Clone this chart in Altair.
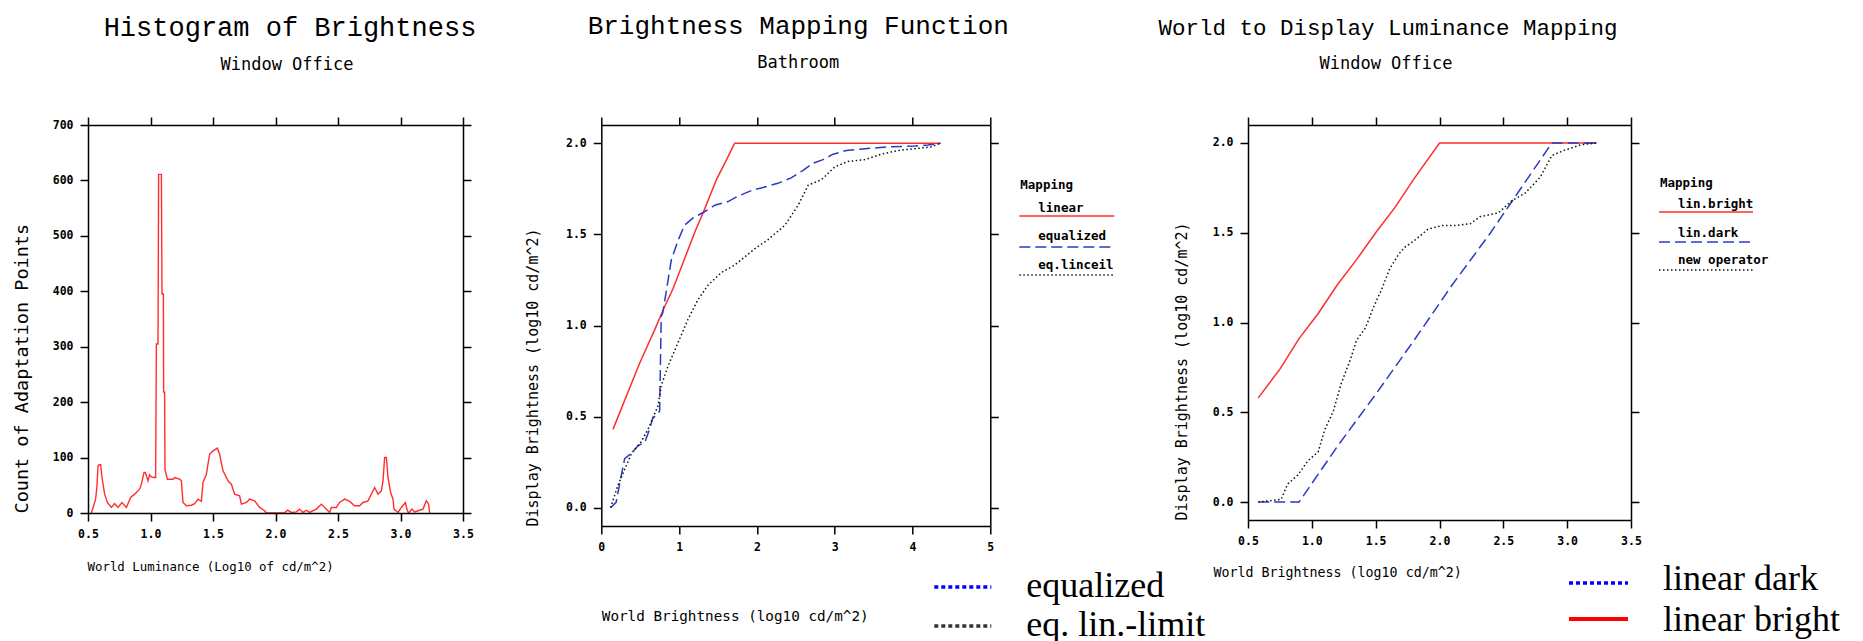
import altair as alt
import pandas as pd

# ---------------- Histogram of Brightness (Window Office) ----------------
hist_lum = [0.527, 0.561, 0.572, 0.580, 0.591, 0.601, 0.612, 0.633, 0.655, 0.687,
            0.713, 0.740, 0.772, 0.807, 0.841, 0.873, 0.913, 0.927, 0.948, 0.959,
            0.980, 0.993, 1.007, 1.028, 1.041, 1.047, 1.060, 1.065, 1.087, 1.092,
            1.103, 1.105, 1.113, 1.116, 1.135, 1.180, 1.193, 1.233, 1.247, 1.260,
            1.287, 1.327, 1.353, 1.380, 1.407, 1.420, 1.447, 1.473, 1.500, 1.535,
            1.553, 1.580, 1.620, 1.647, 1.673, 1.713, 1.727, 1.767, 1.793, 1.833,
            1.873, 1.913, 1.927, 2.073, 2.095, 2.127, 2.167, 2.193, 2.220, 2.247,
            2.273, 2.327, 2.367, 2.433, 2.447, 2.487, 2.513, 2.553, 2.593, 2.633,
            2.673, 2.700, 2.740, 2.793, 2.820, 2.847, 2.860, 2.873, 2.887, 2.900,
            2.921, 2.940, 2.948, 2.980, 3.007, 3.039, 3.055, 3.065, 3.092, 3.113,
            3.153, 3.180, 3.207, 3.225, 3.233]
hist_count = [0, 25, 49, 85, 87, 87, 64, 34, 19, 10,
              17, 10, 19, 10, 28, 34, 43, 52, 73, 73,
              58, 69, 65, 64, 64, 305, 305, 611, 611, 395,
              395, 218, 218, 78, 61, 61, 64, 61, 58, 19,
              13, 14, 17, 25, 21, 55, 70, 106, 112, 117,
              106, 76, 58, 52, 34, 31, 16, 19, 25, 22,
              10, 4, 0, 0, 5, 1, 2, 7, 1, 5,
              1, 7, 16, 1, 10, 10, 19, 25, 21, 13,
              13, 19, 22, 46, 34, 40, 58, 100, 100, 64,
              37, 25, 7, 1, 10, 19, 4, 0, 7, 2,
              5, 7, 22, 16, 0]

# ---------------- Brightness Mapping Function (Bathroom) ----------------
bath_linear_x = [0.15, 0.49, 0.69, 0.81, 0.92, 1.11, 1.20, 1.31, 1.48, 1.61, 1.714, 4.36]
bath_linear_y = [0.43, 0.79, 0.98, 1.10, 1.20, 1.41, 1.51, 1.62, 1.80, 1.91, 2.0, 2.0]

bath_equal_x = [0.12, 0.19, 0.24, 0.30, 0.39, 0.47, 0.56, 0.62, 0.66, 0.73,
                0.75, 0.77, 0.79, 0.84, 0.90, 0.99, 1.07, 1.18, 1.31, 1.46,
                1.63, 1.76, 1.93, 2.10, 2.27, 2.44, 2.59, 2.72, 2.85, 2.98,
                3.15, 3.39, 3.69, 4.03, 4.20, 4.36]
bath_equal_y = [0.0, 0.03, 0.14, 0.27, 0.30, 0.34, 0.36, 0.43, 0.49, 0.52,
                0.53, 1.05, 1.07, 1.20, 1.36, 1.47, 1.55, 1.59, 1.62, 1.66,
                1.68, 1.71, 1.74, 1.76, 1.78, 1.81, 1.85, 1.89, 1.91, 1.94,
                1.96, 1.97, 1.98, 1.985, 1.99, 2.0]

bath_ceil_x = [0.12, 0.21, 0.30, 0.39, 0.51, 0.60, 0.73, 0.77, 0.86, 0.99,
               1.11, 1.24, 1.37, 1.54, 1.71, 1.97, 2.14, 2.36, 2.53, 2.66,
               2.83, 3.00, 3.17, 3.39, 3.60, 3.81, 4.03, 4.24, 4.36]
bath_ceil_y = [0.0, 0.12, 0.21, 0.30, 0.36, 0.43, 0.56, 0.67, 0.78, 0.91,
               1.03, 1.14, 1.22, 1.29, 1.33, 1.42, 1.47, 1.55, 1.66, 1.77,
               1.80, 1.87, 1.90, 1.91, 1.94, 1.96, 1.97, 1.98, 2.0]

# ---------------- World to Display Luminance Mapping (Window Office) ----------------
office_bright_x = [0.58, 0.75, 0.90, 1.05, 1.20, 1.35, 1.50, 1.65, 1.80, 2.0, 3.23]
office_bright_y = [0.58, 0.74, 0.91, 1.05, 1.21, 1.35, 1.50, 1.64, 1.80, 2.0, 2.0]

office_dark_x = [0.58, 0.90, 1.20, 1.50, 1.80, 2.10, 2.40, 2.88, 3.23]
office_dark_y = [0.0, 0.0, 0.31, 0.60, 0.90, 1.21, 1.50, 2.0, 2.0]

office_new_x = [0.58, 0.76, 0.81, 0.89, 0.97, 1.05, 1.10, 1.17, 1.23, 1.30,
                1.35, 1.42, 1.48, 1.55, 1.61, 1.68, 1.73, 1.81, 1.91, 2.02,
                2.12, 2.24, 2.32, 2.46, 2.57, 2.67, 2.79, 2.88, 2.98, 3.11,
                3.23]
office_new_y = [0.0, 0.015, 0.10, 0.15, 0.23, 0.28, 0.40, 0.51, 0.66, 0.79,
                0.90, 0.97, 1.08, 1.19, 1.30, 1.38, 1.42, 1.46, 1.52, 1.54,
                1.54, 1.55, 1.59, 1.61, 1.68, 1.72, 1.81, 1.93, 1.96, 1.99,
                2.0]

RED = "#ff2e2e"
BLUE = "#2b3ac4"
BLACK = "#111111"
MONO = "DejaVu Sans Mono"
TITLE_FONT = "Liberation Mono"
SERIF = "Liberation Serif"

DASHED = [11, 5]
DOTTED = [1.5, 2.5]


def series_frame(pairs):
    rows = []
    for name, xs, ys in pairs:
        for i, (x, y) in enumerate(zip(xs, ys)):
            rows.append({"series": name, "i": i, "x": x, "y": y})
    return pd.DataFrame(rows)


ONE = pd.DataFrame({"k": [0]})


def axis(orient, values, fmt=None, labels=True, **kw):
    spec = dict(orient=orient, values=values, tickSize=8, tickWidth=1.5,
                tickColor="black", domainColor="black", domainWidth=1.5,
                grid=False, zindex=1, labelFlush=False, labelOverlap=False)
    if labels:
        spec.update(labels=True, format=fmt, labelFont=MONO, labelFontSize=11.5,
                    labelFontWeight="bold", labelColor="black", labelPadding=7)
    else:
        spec.update(labels=False, title=None)
    spec.update(kw)
    return alt.Axis(**spec)


def text(s, x, y, size, font=MONO, weight="normal", align="left"):
    return alt.Chart(ONE).mark_text(
        text=s, font=font, fontSize=size, fontWeight=weight, align=align,
        baseline="alphabetic", color="black"
    ).encode(x=alt.value(x), y=alt.value(y))


def sample(x0, x1, y, color, dash=None, width=1.5):
    kw = dict(color=color, strokeWidth=width)
    if dash:
        kw["strokeDash"] = dash
    return alt.Chart(ONE).mark_rule(**kw).encode(
        x=alt.value(x0), x2=alt.value(x1), y=alt.value(y))


def panel(df, styles, xdom, ydom, xvals, yvals, xfmt, yfmt, w, h,
          xtitle, xt_kw, ytitle, yt_kw, extras):
    xs = alt.Scale(domain=xdom, nice=False, zero=False)
    ys = alt.Scale(domain=ydom, nice=False, zero=False)
    bottom_left = alt.Chart(df).mark_line(strokeOpacity=0).encode(
        x=alt.X("x:Q", scale=xs, axis=axis("bottom", xvals, xfmt, title=xtitle,
                                            titleFont=MONO, titleFontWeight="normal",
                                            titleColor="black", titleAlign="left",
                                            titleBaseline="alphabetic", titleAngle=0,
                                            **xt_kw)),
        y=alt.Y("y:Q", scale=ys, axis=axis("left", yvals, yfmt, title=ytitle,
                                            titleFont=MONO, titleFontWeight="normal",
                                            titleColor="black", titleAlign="left",
                                            titleBaseline="alphabetic", titleAngle=270,
                                            titleY=h, **yt_kw)),
        order="i:Q",
    )
    top_right = alt.Chart(df).mark_line(strokeOpacity=0).encode(
        x=alt.X("x:Q", scale=xs, axis=axis("top", xvals, labels=False)),
        y=alt.Y("y:Q", scale=ys, axis=axis("right", yvals, labels=False)),
        order="i:Q",
    )
    layers = [bottom_left, top_right]
    for name, color, dash, width in styles:
        kw = dict(color=color, strokeWidth=width)
        if dash:
            kw["strokeDash"] = dash
        layers.append(
            alt.Chart(df[df["series"] == name]).mark_line(**kw).encode(
                x=alt.X("x:Q", scale=xs, axis=None),
                y=alt.Y("y:Q", scale=ys, axis=None),
                order="i:Q",
            )
        )
    layers.extend(extras)
    return alt.layer(*layers).resolve_axis(x="independent", y="independent").properties(
        width=w, height=h)


# ---- panel 1 ----
hist_df = series_frame([("count", hist_lum, hist_count)])
p1 = panel(
    hist_df, [("count", RED, None, 1.4)],
    [0.5, 3.5], [0, 700],
    [0.5, 1.0, 1.5, 2.0, 2.5, 3.0, 3.5], list(range(0, 701, 100)), ".1f", "d",
    375, 388,
    "World Luminance (Log10 of cd/m^2)", dict(titleFontSize=12.4, titleX=-1, titleY=57),
    "Count of Adaptation Points", dict(titleFontSize=18.5, titleX=-61),
    [
        text("Histogram of Brightness", 202, -89, 27, font=TITLE_FONT, align="center"),
        text("Window Office", 199, -55, 17, align="center"),
    ],
)

# ---- panel 2 ----
bath_df = series_frame([
    ("linear", bath_linear_x, bath_linear_y),
    ("equalized", bath_equal_x, bath_equal_y),
    ("eq.linceil", bath_ceil_x, bath_ceil_y),
])
p2 = panel(
    bath_df,
    [("linear", RED, None, 1.5), ("equalized", BLUE, DASHED, 1.5),
     ("eq.linceil", BLACK, DOTTED, 1.5)],
    [0, 5], [-0.1, 2.1],
    [0, 1, 2, 3, 4, 5], [0.0, 0.5, 1.0, 1.5, 2.0], "d", ".1f",
    389, 401,
    "World Brightness (log10 cd/m^2)", dict(titleFontSize=14.3, titleX=0, titleY=94),
    "Display Brightness (log10 cd/m^2)", dict(titleFontSize=15, titleX=-64),
    [
        text("Brightness Mapping Function", 197, -91, 26, font=TITLE_FONT, align="center"),
        text("Bathroom", 197, -57, 17, align="center"),
        text("Mapping", 419, 64, 12.5, weight="bold"),
        text("linear", 437, 87, 12.5, weight="bold"),
        sample(418, 513, 91, RED),
        text("equalized", 437, 115, 12.5, weight="bold"),
        sample(418, 513, 122, BLUE, DASHED),
        text("eq.linceil", 437, 144, 12.5, weight="bold"),
        sample(418, 513, 150, BLACK, DOTTED),
        sample(333, 390, 462, "#0000ff", [4, 3], 3.5),
        text("equalized", 425, 472, 36, font=SERIF),
        sample(333, 390, 501, "#333333", [4, 3], 3.5),
        text("eq. lin.-limit", 425, 511, 36, font=SERIF),
    ],
)

# ---- panel 3 ----
office_df = series_frame([
    ("lin.bright", office_bright_x, office_bright_y),
    ("lin.dark", office_dark_x, office_dark_y),
    ("new operator", office_new_x, office_new_y),
])
p3 = panel(
    office_df,
    [("lin.bright", RED, None, 1.5), ("lin.dark", BLUE, DASHED, 1.5),
     ("new operator", BLACK, DOTTED, 1.5)],
    [0.5, 3.5], [-0.1, 2.1],
    [0.5, 1.0, 1.5, 2.0, 2.5, 3.0, 3.5], [0.0, 0.5, 1.0, 1.5, 2.0], ".1f", ".1f",
    383, 395,
    "World Brightness (log10 cd/m^2)", dict(titleFontSize=13.3, titleX=-35, titleY=56),
    "Display Brightness (log10 cd/m^2)", dict(titleFontSize=15, titleX=-62),
    [
        text("World to Display Luminance Mapping", 140, -90, 22.5, font=TITLE_FONT, align="center"),
        text("Window Office", 138, -56, 17, align="center"),
        text("Mapping", 412, 62, 12.5, weight="bold"),
        text("lin.bright", 430, 83, 12.5, weight="bold"),
        sample(411, 505, 87, RED),
        text("lin.dark", 430, 112, 12.5, weight="bold"),
        sample(411, 505, 117, BLUE, DASHED),
        text("new operator", 430, 139, 12.5, weight="bold"),
        sample(411, 505, 145, BLACK, DOTTED),
        sample(321, 380, 458, "#0000ff", [4, 3], 3.5),
        text("linear dark", 415, 465, 36, font=SERIF),
        sample(321, 380, 494, "#ff0000", None, 4),
        text("linear bright", 415, 506, 36, font=SERIF),
    ],
)

chart = alt.hconcat(
    p1,
    alt.hconcat(p2, p3, spacing=257.7, bounds="flush"),
    spacing=138.3,
    bounds="flush",
).configure_view(stroke=None).properties(
    background="white",
    padding={"left": 11, "top": 13, "right": 0, "bottom": 0},
)

chart.save("out.html", embed_options={"renderer": "svg", "actions": False})
